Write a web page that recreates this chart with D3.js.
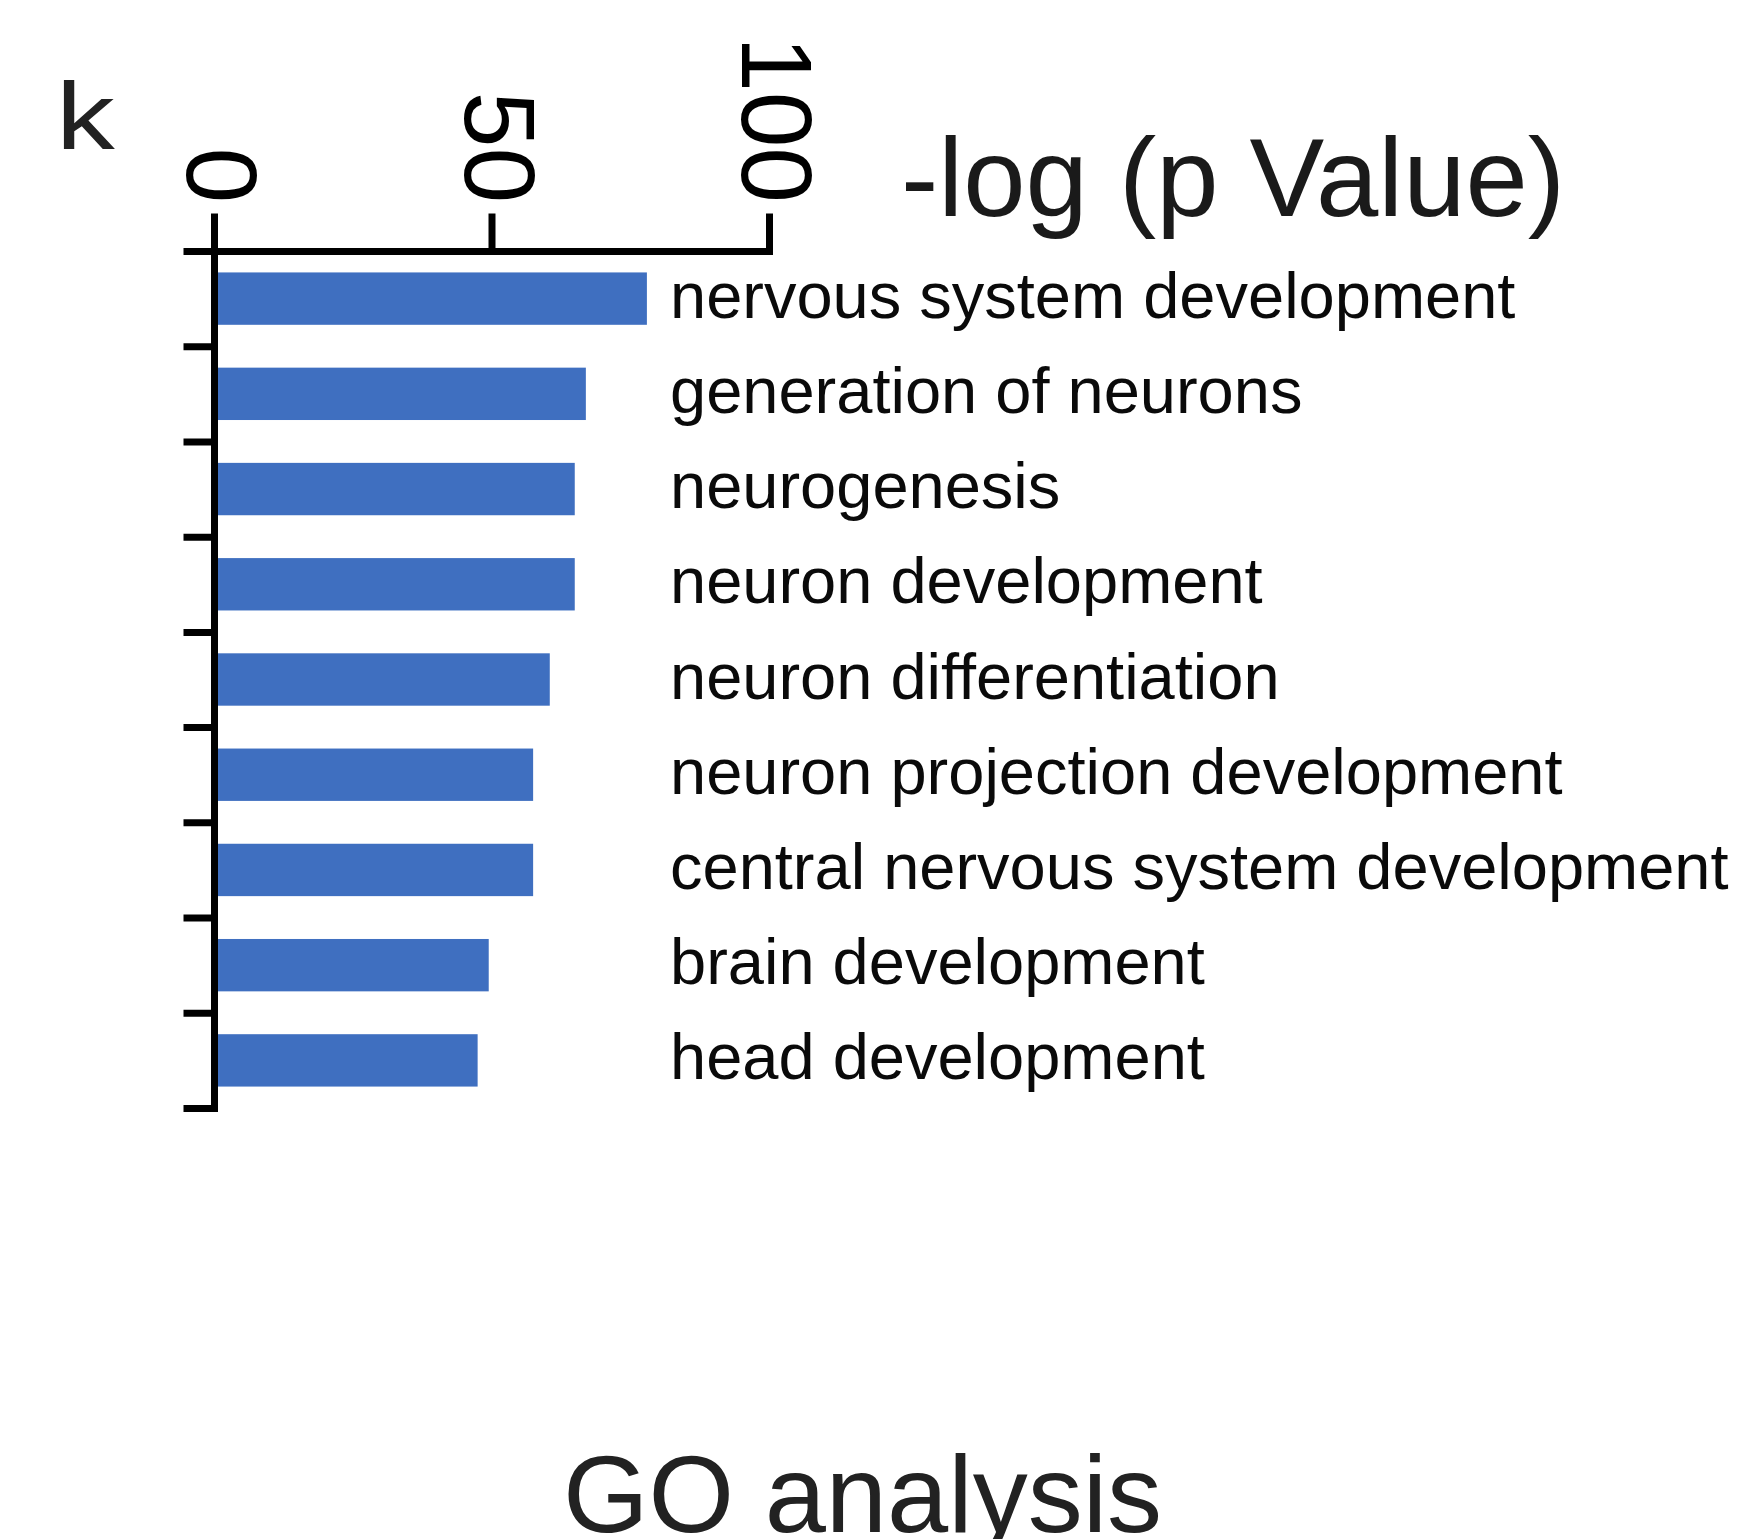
<!DOCTYPE html>
<html>
<head>
<meta charset="utf-8">
<script src="https://cdn.jsdelivr.net/npm/d3@7"></script>
<style>
  body { margin: 0; background: #fff; }
  text { font-family: "Liberation Sans", Arial, sans-serif; }
</style>
</head>
<body>
<div id="content"></div>
<script>
// GO terms, top to bottom
let terms = [
  "nervous system development",
  "generation of neurons",
  "neurogenesis",
  "neuron development",
  "neuron differentiation",
  "neuron projection development",
  "central nervous system development",
  "brain development",
  "head development"
];
// -log(p value)
let logP = [78, 67, 65, 65, 60.5, 57.5, 57.5, 49.5, 47.5];
let xTicks = [0, 50, 100];

let width = 1748;
let height = 1539;
let svg = d3.select("#content").append("svg")
  .attr("width", width)
  .attr("height", height);

let lineW = 7;
let axisTop = 251, axisBottom = 1108;

let x = d3.scaleLinear().domain([0, 100]).range([214, 769]);
let y = d3.scaleBand().domain(terms).range([axisTop, axisBottom])
  .paddingInner(0.45).paddingOuter(0.225);
// band edges for the left ticks (ticks sit between bars)
let yEdge = d3.scaleLinear().domain([0, terms.length]).range([axisTop, axisBottom]);

// bars
svg.append("g").selectAll("rect")
  .data(terms)
  .enter().append("rect")
  .attr("x", x(0))
  .attr("y", d => y(d))
  .attr("width", (d, i) => x(logP[i]) - x(0))
  .attr("height", y.bandwidth())
  .attr("fill", "#3f6fc0");

// left category axis
svg.append("g")
  .attr("transform", `translate(${x(0)},0)`)
  .call(d3.axisLeft(yEdge).tickValues(d3.range(terms.length + 1))
    .tickFormat("").tickSize(27).tickSizeOuter(0));

// top value axis
svg.append("g")
  .attr("transform", `translate(0,${axisTop})`)
  .call(d3.axisTop(x).tickValues(xTicks).tickFormat("").tickSize(34).tickSizeOuter(0));

svg.selectAll(".domain, .tick line")
  .attr("stroke", "#000")
  .attr("stroke-width", lineW)
  .attr("stroke-linecap", "square");

// rotated tick labels
svg.append("g").selectAll("text")
  .data(xTicks)
  .enter().append("text")
  .attr("transform", d => `translate(${x(d) + 8},203) rotate(90)`)
  .attr("text-anchor", "end")
  .attr("dominant-baseline", "central")
  .attr("font-size", 100)
  .attr("fill", "#000")
  .text(d => d);

// category labels
svg.append("g").selectAll("text")
  .data(terms)
  .enter().append("text")
  .attr("x", 670)
  .attr("y", d => y(d) + y.bandwidth() / 2 + 19)
  .attr("font-size", 65)
  .attr("fill", "#0a0a0a")
  .text(d => d);

// axis title
svg.append("text")
  .attr("x", 901)
  .attr("y", 216)
  .attr("font-size", 112)
  .attr("fill", "#1a1a1a")
  .text("-log (p Value)");

// panel letter (wider than the plain glyph in the source)
svg.append("text")
  .attr("transform", "translate(56,149) scale(1.25,1)")
  .attr("font-size", 94)
  .attr("fill", "#222")
  .text("k");

// caption
svg.append("text")
  .attr("x", 563)
  .attr("y", 1532)
  .attr("font-size", 110)
  .attr("fill", "#222")
  .text("GO analysis");
</script>
</body>
</html>
